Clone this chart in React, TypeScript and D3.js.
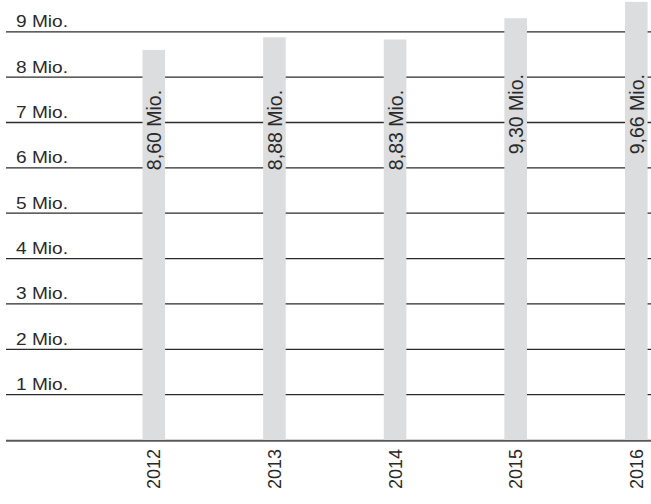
import React from "react";
import * as d3 from "d3";

const years = ["2012", "2013", "2014", "2015", "2016"];
const values = [8.6, 8.88, 8.83, 9.3, 9.66];
const valueLabels = ["8,60 Mio.", "8,88 Mio.", "8,83 Mio.", "9,30 Mio.", "9,66 Mio."];
const tickValues = [1, 2, 3, 4, 5, 6, 7, 8, 9];
const tickLabels = ["1 Mio.", "2 Mio.", "3 Mio.", "4 Mio.", "5 Mio.", "6 Mio.", "7 Mio.", "8 Mio.", "9 Mio."];

const W = 651;
const H = 504;

export default function App() {
  const y = d3.scaleLinear().domain([0, 9]).range([440, 31.8]);
  const x = d3.scalePoint<string>().domain(years).range([153.8, 636.3]);
  const barW = 22.6;
  const font = "'Liberation Sans', Arial, Helvetica, sans-serif";

  return (
    <svg
      width={W}
      height={H}
      style={{ position: "absolute", left: 0, top: 0, background: "#fff" }}
      fontFamily={font}
    >
      {tickValues.map((t, i) => (
        <g key={t}>
          <line x1={6} x2={W} y1={y(t)} y2={y(t)} stroke="#2b2b2b" strokeWidth={1.3} />
          <text
            x={16}
            y={y(t) - 4.5}
            fontSize={16.5}
            fill="#2a2a2a"
            textLength={52}
            lengthAdjust="spacingAndGlyphs"
          >
            {tickLabels[i]}
          </text>
        </g>
      ))}
      <line x1={6} x2={W} y1={y(0) + 0.8} y2={y(0) + 0.8} stroke="#5a5a5a" strokeWidth={2} />
      {years.map((yr, i) => {
        const cx = x(yr) as number;
        const labelBase = values[i] > 9 ? y(6.3) : y(5.95);
        return (
          <g key={yr}>
            <rect
              x={cx - barW / 2}
              y={y(values[i])}
              width={barW}
              height={y(0) - y(values[i])}
              fill="#dcdddf"
            />
            <text
              transform={`translate(${cx + 7.5},${labelBase}) rotate(-90)`}
              fontSize={19.5}
              fill="#2a2a2a"
            >
              {valueLabels[i]}
            </text>
            <text
              transform={`translate(${cx + 6.5},${449}) rotate(-90)`}
              fontSize={18}
              fill="#2a2a2a"
              textAnchor="end"
            >
              {yr}
            </text>
          </g>
        );
      })}
    </svg>
  );
}
